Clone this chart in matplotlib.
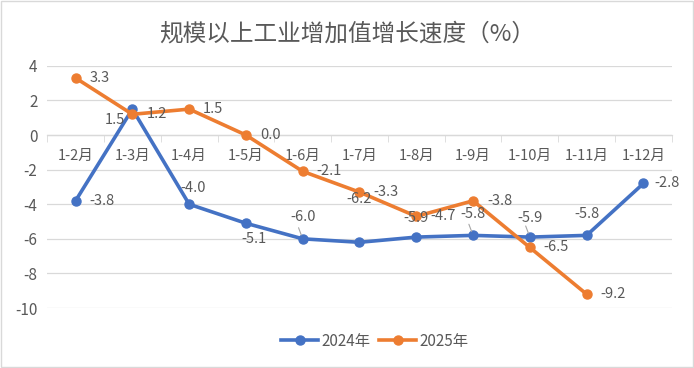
import matplotlib as mpl
mpl.use('Agg')
import matplotlib.pyplot as plt
from matplotlib.patches import Rectangle

plt.rcParams['font.family'] = ['Noto Sans CJK SC', 'DejaVu Sans']
plt.rcParams['axes.unicode_minus'] = False

months = ['1-2月', '1-3月', '1-4月', '1-5月', '1-6月', '1-7月',
          '1-8月', '1-9月', '1-10月', '1-11月', '1-12月']
y2024 = [-3.8, 1.5, -4.0, -5.1, -6.0, -6.2, -5.9, -5.8, -5.9, -5.8, -2.8]
y2025 = [3.3, 1.2, 1.5, 0.0, -2.1, -3.3, -4.7, -3.8, -6.5, -9.2]

# label placement (offset in points, ha, va, leader line)
pos2024 = [((10, 0), 'left', 'center', False),
           ((-5, -3), 'right', 'top', False),
           ((3, 7), 'center', 'bottom', False),
           ((6, -6), 'center', 'top', False),
           ((0, 11), 'center', 'bottom', True),
           ((0, 26), 'center', 'bottom', False),
           ((0, 9), 'center', 'bottom', False),
           ((0, 10), 'center', 'bottom', True),
           ((0, 9), 'center', 'bottom', True),
           ((0, 10), 'center', 'bottom', False),
           ((8, 0), 'left', 'center', False)]

blue = '#4472C4'
orange = '#ED7D31'
txt = '#595959'
grid = '#D9D9D9'

fig = plt.figure(figsize=(6.94, 3.68), dpi=100)
ax = fig.add_axes([0.068, 0.163, 0.9, 0.658])
x = list(range(len(months)))

ax.plot(x, y2024, color=blue, lw=2.6, marker='o', ms=6.5, label='2024年', zorder=3)
ax.plot(x[:len(y2025)], y2025, color=orange, lw=2.6, marker='o', ms=6.5, label='2025年', zorder=4)

for i, v in enumerate(y2024):
    off, ha, va, lead = pos2024[i]
    ax.annotate('%.1f' % v, (i, v), xytext=off, textcoords='offset points',
                ha=ha, va=va, fontsize=10.5, color=txt, zorder=5)
    if lead:
        ax.annotate('', (i, v), xytext=(-3, 8), textcoords='offset points',
                    arrowprops=dict(arrowstyle='-', color='#A6A6A6', lw=0.8,
                                    shrinkA=0, shrinkB=3))
for i, v in enumerate(y2025):
    ax.annotate('%.1f' % v, (i, v), xytext=(10, 0), textcoords='offset points',
                ha='left', va='center', fontsize=10.5, color=txt, zorder=5)

ax.set_xlim(-0.5, len(months) - 0.5)
ax.set_ylim(-10, 4)
ax.set_yticks(range(-10, 5, 2))
ax.set_xticks(x)
ax.set_xticklabels(months)
ax.set_xticks([i + 0.5 for i in range(-1, len(months))], minor=True)
ax.tick_params(axis='x', which='major', length=0, pad=10, labelsize=10.5, labelcolor=txt)
ax.tick_params(axis='x', which='minor', length=5, color=grid, direction='out')
ax.tick_params(axis='y', length=0, pad=7, labelsize=11, labelcolor=txt)
ax.grid(axis='y', color=grid, lw=0.9)
ax.set_axisbelow(True)
for s in ['top', 'right', 'left']:
    ax.spines[s].set_visible(False)
ax.spines['bottom'].set_position(('data', 0))
ax.spines['bottom'].set_color(grid)
ax.spines['bottom'].set_linewidth(0.9)

fig.suptitle('规模以上工业增加值增长速度（%）', y=0.94, fontsize=17, color=txt)
fig.legend(loc='center', bbox_to_anchor=(0.54, 0.073), ncol=2, frameon=False,
           fontsize=11, labelcolor=txt, handlelength=2.4, columnspacing=0.6,
           handletextpad=0.2)
fig.patches.append(Rectangle((0.002, 0.003), 0.996, 0.994, transform=fig.transFigure,
                             fill=False, edgecolor=grid, lw=1))

plt.savefig('out.png', dpi=100)
